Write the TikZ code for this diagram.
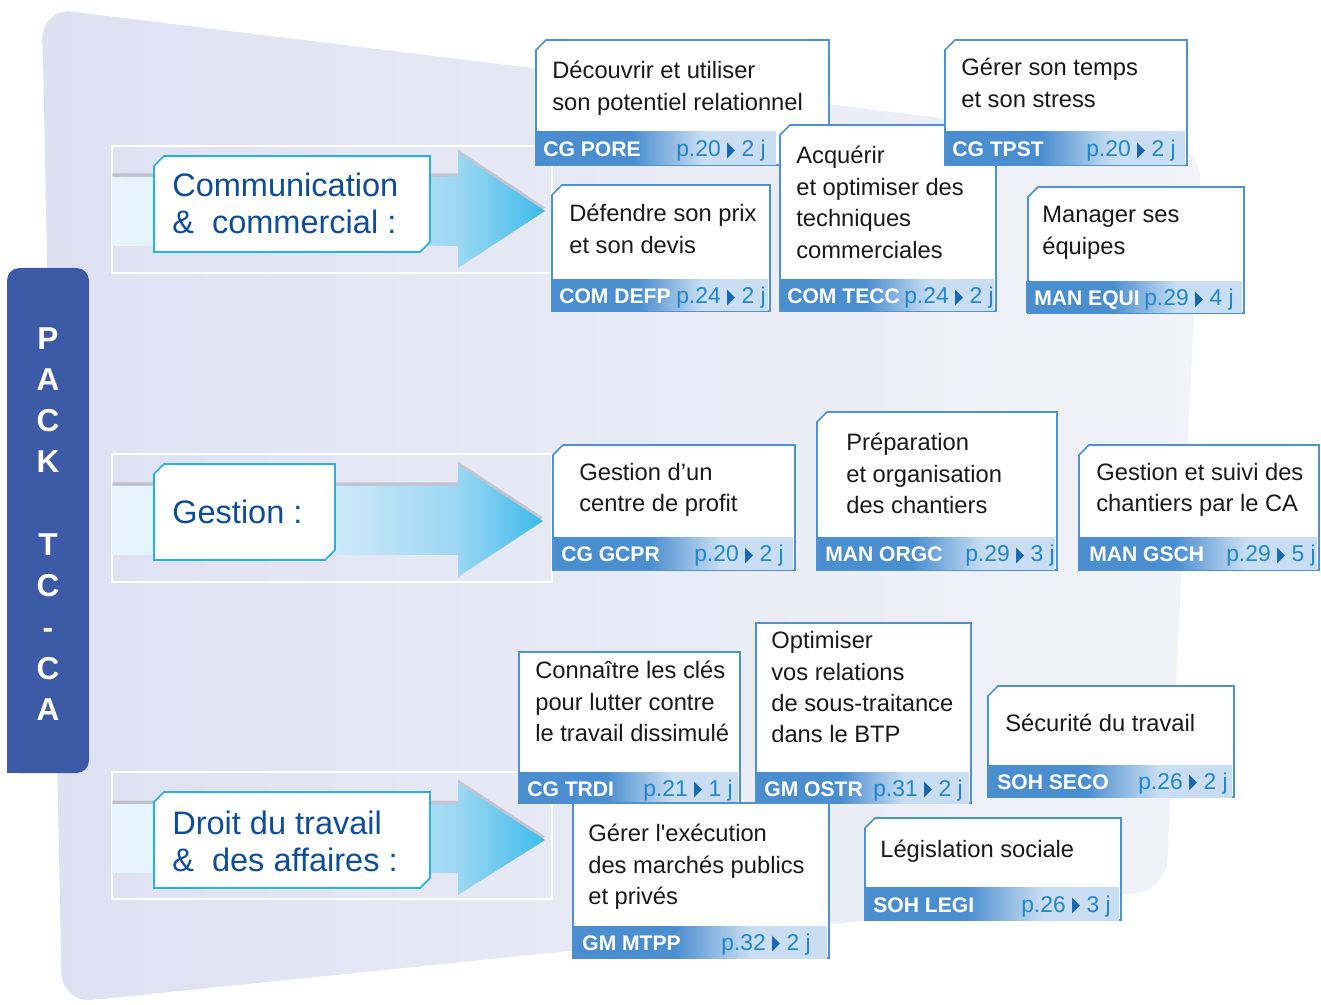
\documentclass[tikz,border=0pt]{standalone}
\usepackage{fontspec}
\usepackage{graphicx}
\setmainfont{Liberation Sans}
\newfontfamily\symfont{DejaVu Sans}
\usetikzlibrary{shapes.misc, positioning, calc, fit, shadows}
\definecolor{bglav}{HTML}{DEE1F2}
\definecolor{bgpale}{HTML}{F2F3F9}
\definecolor{packblue}{HTML}{3C5AA6}
\definecolor{catblue}{HTML}{0E4C9C}
\definecolor{catcyan}{HTML}{22B3E6}
\definecolor{boxblue}{HTML}{4D93D3}
\definecolor{barblue}{HTML}{4B8ED0}
\definecolor{barlight}{HTML}{C9DEF3}
\definecolor{pageblue}{HTML}{2086CE}
\definecolor{triblue}{HTML}{1767B3}
\definecolor{arlight}{HTML}{E9F5FC}
\definecolor{armid}{HTML}{D0EBF9}
\definecolor{arsky}{HTML}{9CD7F3}
\definecolor{arcyan}{HTML}{3CBBEB}
\pgfdeclarehorizontalshading{codebar}{100bp}{color(0bp)=(barblue); color(25bp)=(barblue); color(45bp)=(barblue); color(60bp)=(barlight); color(100bp)=(barlight)}
\pgfdeclarehorizontalshading{flowarrow}{100bp}{color(0bp)=(arlight); color(25bp)=(arlight); color(50bp)=(armid); color(65bp)=(arsky); color(75bp)=(arcyan); color(100bp)=(arcyan)}
\newcommand{\tri}{{\color{triblue}\symfont\fontsize{12}{12}\selectfont\raisebox{0.3pt}{\scalebox{0.5}[1]{▶}}}}

\begin{document}
\begin{tikzpicture}[
  x=0.2mm, y=-0.2mm,
  course/.style={chamfered rectangle, chamfered rectangle corners=north west, chamfered rectangle xsep=1mm, chamfered rectangle ysep=1mm, draw=boxblue, line width=0.9pt, fill=white, inner sep=0pt},
  strip/.style={rectangle, shade, shading=codebar, draw=none, inner sep=0pt},
  title/.style={anchor=north west, align=left, inner sep=0pt, font=\fontsize{13.5}{17.9}\selectfont, text=black!90, execute at begin node=\strut},
  code/.style={anchor=base west, inner sep=0pt, font=\fontsize{12}{14}\selectfont\bfseries, text=white},
  page/.style={anchor=base east, inner sep=0pt, font=\fontsize{13}{15}\selectfont, text=pageblue},
  theme/.style={chamfered rectangle, chamfered rectangle corners={north west, south east}, chamfered rectangle xsep=1mm, chamfered rectangle ysep=1mm, draw=catcyan, line width=1pt, fill=white, inner sep=0pt},
  themetxt/.style={anchor=west, align=left, inner sep=0pt, font=\fontsize{18.5}{21}\selectfont, text=catblue},
  flow/.style={shade, shading=flowarrow, drop shadow={shadow xshift=0mm, shadow yshift=0.7mm, fill=black!70, opacity=0.22}},
  rowframe/.style={draw=white, line width=0.6pt},
  packbar/.style={rectangle, rounded corners=2.5mm, fill=packblue, inner sep=0pt},
  packtxt/.style={align=center, inner sep=0pt, font=\fontsize{18}{23.5}\selectfont\bfseries, text=white}
]
  \useasboundingbox (0,0) rectangle (1321,1005);

  % Background
  \shade[left color=bglav, right color=bgpale, rounded corners=6mm] (42,8) -- (1202,150) -- (1166,890) -- (62,1003) -- cycle;

  % Rows and arrows
  \draw[rowframe] (112,146) rectangle (552,273);
  \draw[rowframe] (112,454) rectangle (552,582);
  \draw[rowframe] (112,772) rectangle (552,899);
  \path[flow] (112,177) -- (458,177) -- (458,153) -- (545,211) -- (458,268) -- (458,246) -- (112,246) -- cycle;
  \path[flow] (112,486) -- (458,486) -- (458,465) -- (543,521) -- (458,577) -- (458,555) -- (112,555) -- cycle;
  \path[flow] (112,804) -- (458,804) -- (458,783) -- (545,840) -- (458,895) -- (458,873) -- (112,873) -- cycle;

  % Themes
  \node[theme, fit={(159,161) (425,247)}] (comm) {};
  \node[themetxt] (commtxt) at (172,203) {Communication\\\& \ commercial :};
  \node[theme, fit={(159,469) (330,555)}] (gest) {};
  \node[themetxt] (gesttxt) at (172,512) {Gestion :};
  \node[theme, fit={(159,797) (425,883)}] (droit) {};
  \node[themetxt] (droittxt) at (172,841) {Droit du travail\\\& \ des affaires :};

  % Communication & commercial
  \node[course, fit={(541,45) (824,160)}] (pore) {};
  \node[strip, fit={(536,132) (776,165)}] (porebar) {};
  \node[title] (poretxt) at (552,61) {Découvrir et utiliser\\son potentiel relationnel};
  \node[code] (porecode) at (543,157) {CG PORE};
  \node[page] (porepage) at (766,157) {p.20 \tri\ 2 j};

  \node[course, fit={(785,130) (991,306)}] (tecc) {};
  \node[strip, fit={(780,280) (994,311)}] (teccbar) {};
  \node[title] (tecctxt) at (796,146) {Acquérir\\et optimiser des\\techniques\\commerciales};
  \node[code] (tecccode) at (787,304) {COM TECC};
  \node[page] (teccpage) at (994,304) {p.24 \tri\ 2 j};

  \node[course, fit={(950,45) (1182,160)}] (tpst) {};
  \node[strip, fit={(945,132) (1185,165)}] (tpstbar) {};
  \node[title] (tpsttxt) at (961,58) {Gérer son temps\\et son stress};
  \node[code] (tpstcode) at (952,157) {CG TPST};
  \node[page] (tpstpage) at (1176,157) {p.20 \tri\ 2 j};

  \node[course, fit={(557,190) (765,306)}] (defp) {};
  \node[strip, fit={(552,280) (768,311)}] (defpbar) {};
  \node[title] (defptxt) at (569,204) {Défendre son prix\\et son devis};
  \node[code] (defpcode) at (559,304) {COM DEFP};
  \node[page] (defppage) at (766,304) {p.24 \tri\ 2 j};

  \node[course, fit={(1033,192) (1239,308)}] (equi) {};
  \node[strip, fit={(1026,282) (1242,313)}] (equibar) {};
  \node[title] (equitxt) at (1042,206) {Manager ses\\équipes};
  \node[code] (equicode) at (1034,306) {MAN EQUI};
  \node[page] (equipage) at (1234,306) {p.29 \tri\ 4 j};

  % Gestion
  \node[course, fit={(558,450) (790,565)}] (gcpr) {};
  \node[strip, fit={(553,538) (793,570)}] (gcprbar) {};
  \node[title] (gcprtxt) at (579,463) {Gestion d’un\\centre de profit};
  \node[code] (gcprcode) at (561,562) {CG GCPR};
  \node[page] (gcprpage) at (784,562) {p.20 \tri\ 2 j};

  \node[course, fit={(822,417) (1052,565)}] (orgc) {};
  \node[strip, fit={(817,538) (1055,570)}] (orgcbar) {};
  \node[title] (orgctxt) at (846,433) {Préparation\\et organisation\\des chantiers};
  \node[code] (orgccode) at (825,562) {MAN ORGC};
  \node[page] (orgcpage) at (1055,562) {p.29 \tri\ 3 j};

  \node[course, fit={(1084,450) (1314,565)}] (gsch) {};
  \node[strip, fit={(1079,538) (1317,570)}] (gschbar) {};
  \node[title] (gschtxt) at (1096,463) {Gestion et suivi des\\chantiers par le CA};
  \node[code] (gschcode) at (1089,562) {MAN GSCH};
  \node[page] (gschpage) at (1316,562) {p.29 \tri\ 5 j};

  % Droit du travail & des affaires
  \node[course, rectangle, fit={(519,652) (740,803)}] (trdi) {};
  \node[strip, fit={(519,772) (738,803)}] (trdibar) {};
  \node[title] (trditxt) at (535,661) {Connaître les clés\\pour lutter contre\\le travail dissimulé};
  \node[code] (trdicode) at (527,796) {CG TRDI};
  \node[page] (trdipage) at (733,796) {p.21 \tri\ 1 j};

  \node[course, rectangle, fit={(756,623) (971,803)}] (ostr) {};
  \node[strip, fit={(756,772) (969,803)}] (ostrbar) {};
  \node[title] (ostrtxt) at (771,631) {Optimiser\\vos relations\\de sous-traitance\\dans le BTP};
  \node[code] (ostrcode) at (764,796) {GM OSTR};
  \node[page] (ostrpage) at (963,796) {p.31 \tri\ 2 j};

  \node[course, fit={(993,691) (1229,792)}] (seco) {};
  \node[strip, fit={(988,765) (1232,797)}] (secobar) {};
  \node[title] (secotxt) at (1005,709) {Sécurité du travail};
  \node[code] (secocode) at (997,789) {SOH SECO};
  \node[page] (secopage) at (1228,789) {p.26 \tri\ 2 j};

  \node[course, rectangle, fit={(573,803) (829,958)}] (mtpp) {};
  \node[strip, fit={(573,926) (827,958)}] (mtppbar) {};
  \node[title] (mtpptxt) at (588,824) {Gérer l\textquotesingle exécution\\des marchés publics\\et privés};
  \node[code] (mtppcode) at (582,950) {GM MTPP};
  \node[page] (mtpppage) at (811,950) {p.32 \tri\ 2 j};

  \node[course, fit={(870,823) (1116,915)}] (legi) {};
  \node[strip, fit={(865,887) (1119,920)}] (legibar) {};
  \node[title] (legitxt) at (880,835) {Législation sociale};
  \node[code] (legicode) at (873,912) {SOH LEGI};
  \node[page] (legipage) at (1111,912) {p.26 \tri\ 3 j};

  % Pack
  \node[packbar, fit={(7,268) (89,773)}] (pack) {};
  \fill[packblue] (7,740) rectangle (40,773);
  \node[packtxt] (packlbl) at (48,524) {P\\A\\C\\K\\\mbox{}\\T\\C\\-\\C\\A};
\end{tikzpicture}
\end{document}
